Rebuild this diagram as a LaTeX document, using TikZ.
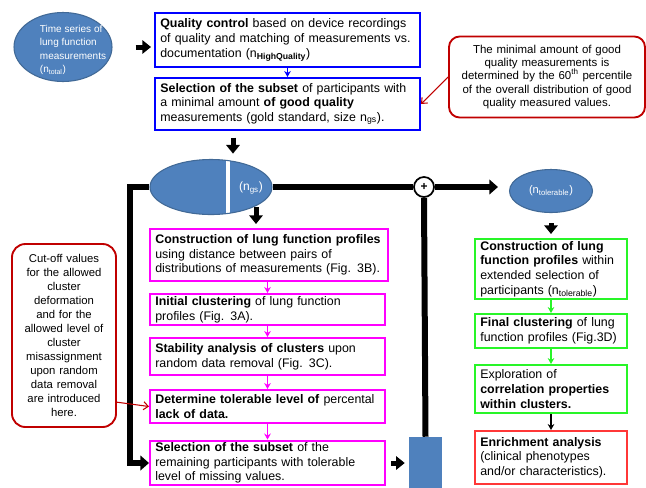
\documentclass[tikz,border=0pt]{standalone}
\usepackage{fontspec}
\setmainfont{Liberation Sans}
\usetikzlibrary{arrows.meta,shapes.geometric}

\definecolor{blobfill}{RGB}{79,129,189}
\definecolor{blobline}{RGB}{65,105,150}
\definecolor{notered}{RGB}{192,0,0}
\definecolor{steppink}{RGB}{255,0,255}
\definecolor{stepgreen}{RGB}{40,245,40}
\definecolor{stepred}{RGB}{255,55,55}

\tikzset{
	stepbox/.style={draw, line width=1.5pt, fill=white, align=left, inner xsep=4pt, inner ysep=1.5pt, font=\fontsize{9.3}{11}\selectfont},
	notebox/.style={draw=notered, line width=1.4pt, align=center, inner sep=2pt, font=\fontsize{8.6}{10.1}\selectfont},
	blob/.style={ellipse, fill=blobfill, draw=blobline, line width=0.8pt, inner sep=0pt},
	blobtext/.style={text=white, align=left},
	bigline/.style={line width=4.5pt},
	bigarrow/.style={line width=3.75pt, -{Triangle[length=6.5pt,width=10pt]}},
	thinarrow/.style={line width=1pt, -{Stealth[length=4.5pt,width=5pt]}},
	notearrow/.style={notered, line width=0.8pt, -{Straight Barb[length=3.5pt,width=6pt]}}
}

\begin{document}
\begin{tikzpicture}[x=0.75pt, y=-0.75pt]
	\useasboundingbox (0,0) rectangle (646,487);
	\clip (0,0) rectangle (646,487);
	
	% input data and quality control
	\node[blob, minimum width=73.5pt, minimum height=51.75pt] (ts) at (63,47) {};
	\node[blobtext, font=\fontsize{7.5}{10}\selectfont] (tstext) at (73,50) {Time series of\\lung function\\measurements\\(n\textsubscript{total})};
	\node[stepbox, draw=blue, text width=190.75pt, minimum height=40.5pt] (qc) at (287.5,40) {\textbf{Quality control} based on device recordings\\of quality and matching of measurements vs.\\documentation (n\textsubscript{\textbf{HighQuality}})};
	\node[stepbox, draw=blue, text width=190.75pt, minimum height=39pt] (qsel) at (287.5,104) {\textbf{Selection of the subset} of participants with\\a minimal amount \textbf{of good quality}\\measurements (gold standard, size n\textsubscript{gs}).};
	\node[notebox, rounded corners=8pt, text width=143pt, minimum height=60.75pt] (note1) at (547,77) {The minimal amount of good\\quality measurements is\\determined by the 60\textsuperscript{th} percentile\\of the overall distribution of good\\quality measured values.};
	
	\node[blob, minimum width=91.5pt, minimum height=41.25pt,
		path picture={\draw[white, line width=3.5pt] ([xshift=12.75pt]path picture bounding box.north) -- ([xshift=12.75pt]path picture bounding box.south);}] (gs) at (211,187) {};
	\node[blobtext, font=\fontsize{9}{10}\selectfont] (gslabel) at (251,188) {(n\textsubscript{gs})};
	\node[circle, draw, fill=white, line width=1.3pt, minimum size=15pt, inner sep=0pt, font=\bfseries\fontsize{9}{9}\selectfont] (plus) at (424,187) {+};
	\node[blob, minimum width=62.25pt, minimum height=32.25pt, text=white, font=\fontsize{8.3}{9}\selectfont] (ntol) at (551,191) {(n\textsubscript{tolerable})};
	
	% clustering steps
	\node[stepbox, draw=steppink, text width=170.5pt, minimum height=39pt] (m1) at (269,255) {\textbf{Construction of lung function profiles}\\using distance between pairs of\\distributions of measurements (Fig. 3B).};
	\node[stepbox, draw=steppink, text width=168.25pt, minimum height=23.25pt] (m2) at (267.5,309.5) {\textbf{Initial clustering} of lung function\\profiles (Fig. 3A).};
	\node[stepbox, draw=steppink, text width=168.25pt, minimum height=27.75pt] (m3) at (267.5,356.5) {\textbf{Stability analysis of clusters} upon\\random data removal (Fig. 3C).};
	\node[stepbox, draw=steppink, text width=168.25pt, minimum height=24.75pt] (m4) at (267.5,406.5) {\textbf{Determine tolerable level of} percental\\\textbf{lack of data.}};
	\node[stepbox, draw=steppink, text width=168.25pt, minimum height=33pt] (m5) at (267.5,463) {\textbf{Selection of the subset} of the\\remaining participants with tolerable\\level of missing values.};
	\node[notebox, rounded corners=10pt, text width=74pt, minimum height=137.25pt, font=\fontsize{8.5}{10.5}\selectfont] (note2) at (64,335.5) {Cut-off values\\for the allowed\\cluster\\deformation\\and for the\\allowed level of\\cluster\\misassignment\\upon random\\data removal\\are introduced\\here.};
	\node[fill=blobfill, minimum width=24.75pt, minimum height=49.5pt, inner sep=0pt] (store) at (425.5,470) {};
	
	\node[stepbox, draw=stepgreen, text width=106pt, minimum height=45pt] (g1) at (551,269) {\textbf{Construction of lung}\\\textbf{function profiles} within\\extended selection of\\participants (n\textsubscript{tolerable})};
	\node[stepbox, draw=stepgreen, text width=106pt, minimum height=25.5pt] (g2) at (551,331) {\textbf{Final clustering} of lung\\function profiles (Fig.3D)};
	\node[stepbox, draw=stepgreen, text width=106pt, minimum height=36pt] (g3) at (551,389) {Exploration of\\\textbf{correlation properties}\\\textbf{within clusters.}};
	\node[stepbox, draw=stepred, text width=106pt, minimum height=39.75pt] (en) at (551,457.5) {\textbf{Enrichment analysis}\\(clinical phenotypes\\and/or characteristics).};
	
	\coordinate (gsin) at (233,0);
	\coordinate (gsout) at (256,207);
	
	\draw[bigarrow, shorten <=17.25pt, shorten >=2.25pt] (ts.east) -- (ts.east -| qc.west);
	\draw[thinarrow, blue] (qc) -- (qsel);
	\draw[notearrow] (note1.west) -- (qsel.east);
	\draw[bigarrow, shorten <=5pt, shorten >=4pt] (qsel.south -| gsin) -- (gs.north -| gsin);
	\draw[bigarrow, shorten >=3pt] (gsout) -- (gsout |- m1.north);
	
	\draw[bigline, -{Triangle[length=6.5pt,width=11pt]}] (gs.west) -- ++(-19,0) |- (m5.west);
	\draw[bigline] (gs.east) -- (plus.west);
	\draw[bigline, -{Triangle[length=6.5pt,width=11pt]}, shorten >=8.25pt] (plus.east) -- (plus -| ntol.west);
	\draw[bigline] (plus.south) -- (store.north);
	
	\draw[thinarrow, steppink] (m1.south -| m2.north) -- (m2.north);
	\draw[thinarrow, steppink] (m2) -- (m3);
	\draw[thinarrow, steppink] (m3) -- (m4);
	\draw[thinarrow, steppink] (m4) -- (m5);
	\draw[notearrow] ([yshift=-50pt]note2.east) -- (m4.west);
	\draw[bigarrow, shorten <=3.75pt, shorten >=3pt] (m5.east) -- (m5.east -| store.west);
	
	\draw[bigarrow, shorten <=7.5pt, shorten >=3pt] (ntol.south) -- (g1.north);
	\draw[thinarrow, stepgreen] (g1) -- (g2);
	\draw[thinarrow, stepgreen] (g2) -- (g3);
	\draw[thinarrow] (g3) -- (en);
	%\draw[bigline] (store.south) -- ++(0,20);
\end{tikzpicture}
\end{document}
